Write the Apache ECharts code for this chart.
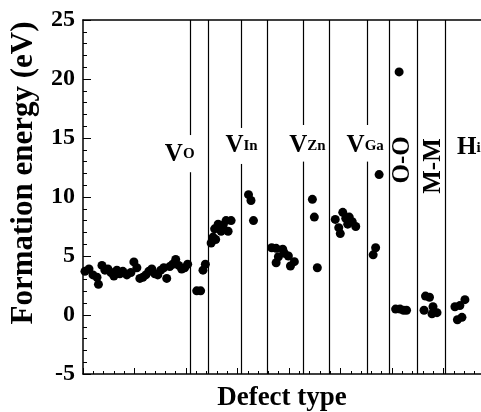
<!DOCTYPE html>
<html><head><meta charset="utf-8">
<script src="https://cdn.jsdelivr.net/npm/echarts@6/dist/echarts.min.js"></script>
<style>html,body{margin:0;padding:0;background:#fff}#c{width:481px;height:412px}</style>
</head><body><div id="c"></div>
<script>
// ---- data ----
const yTicks = [-5, 0, 5, 10, 15, 20, 25];
const groupLabels = ['VO', 'VIn', 'VZn', 'VGa', 'O-O', 'M-M', 'Hi'];
// x = running defect index, y = formation energy (eV)
const vO = [[0.19,3.7],[0.58,3.9],[0.97,3.4],[1.36,3.2],[1.5,2.6],[1.84,4.2],[2.13,3.8],[2.42,3.9],[2.71,3.6],[3.0,3.3],
  [3.29,3.8],[3.58,3.5],[3.87,3.7],[4.26,3.4],[4.65,3.6],[4.94,4.5],[5.23,4.0],[5.52,3.1],[5.81,3.2],[6.1,3.4],
  [6.39,3.7],[6.68,3.9],[6.97,3.5],[7.26,3.4],[7.55,3.8],[7.84,4.0],[8.13,3.1],[8.42,4.1],[8.71,4.3],[9.0,4.7],
  [9.29,4.2],[9.58,3.9],[9.87,4.0],[10.16,4.3]];
const vO2 = [[11.04,2.05],[11.42,2.05],[11.65,3.8],[11.88,4.3]];
const vIn = [[12.44,6.1],[12.63,6.6],[12.88,6.4],[12.78,7.3],[13.12,7.7],[13.41,7.1],[13.6,7.6],[13.89,8.0],[14.09,7.1],[14.38,8.0]];
const vIn2 = [[16.07,10.2],[16.31,9.7],[16.55,8.0]];
const vZn = [[18.32,5.7],[18.75,5.65],[19.39,5.57],[19.55,5.23],[18.97,4.94],[18.75,4.43],[19.94,5.0],[20.14,4.15],[20.52,4.52]];
const vZn2 = [[22.27,9.8],[22.46,8.3],[22.75,4.0]];
const vGa = [[24.49,8.1],[24.83,7.4],[24.98,6.9],[25.22,8.7],[25.51,8.2],[25.7,7.7],[25.85,8.3],[26.14,7.9],[26.48,7.5]];
const vGa2 = [[28.17,5.1],[28.41,5.7],[28.75,11.9]];
const oo = [[30.35,0.5],[30.78,0.5],[31.12,0.4],[31.41,0.4],[30.69,20.6]];
const mm = [[33.25,1.6],[33.64,1.5],[33.11,0.4],[33.98,0.7],[33.88,0.1],[34.37,0.2]];
const hi = [[36.11,0.7],[36.59,0.8],[37.08,1.3],[36.35,-0.4],[36.79,-0.2]];
// category boundaries (x)
const fullLines = [12.2, 17.91, 23.91, 29.72, 32.43, 35.14];
const gappedLines = [[10.45,12.1,15.25],[15.39,12.8,15.85],[21.39,13.0,16.1],[27.59,13.0,16.1]];

// ---- layout ----
const FONT = '"Liberation Serif","Times New Roman",serif';
const labelAnchors = [[9.39,13.64,0],[15.39,14.32,0],[21.78,14.32,0],[27.4,14.32,0],[31.03,13.14,90],[34.03,12.63,90],[37.46,14.15,0]];
const fmt = {
  'VO': '{v|V}{s|O}', 'VIn': '{v|V}{s|In}', 'VZn': '{v|V}{s|Zn}', 'VGa': '{v|V}{s|Ga}',
  'O-O': '{v|O-O}', 'M-M': '{v|M-M}', 'Hi': '{v|H}{s|i}'
};
const rich = {
  v:{fontSize:25, fontWeight:'bold', fontFamily:FONT, fill:'#000', color:'#000'},
  s:{fontSize:15, fontWeight:'bold', fontFamily:FONT, fill:'#000', color:'#000'}
};

const points = [].concat(vO, vO2, vIn, vIn2, vZn, vZn2, vGa, vGa2, oo, mm, hi);
const lineStyle = {color:'#000', width:1.2, type:'solid'};
const mlData = [];
fullLines.forEach(x => mlData.push([{coord:[x,-5]},{coord:[x,25]}]));
gappedLines.forEach(g => {
  mlData.push([{coord:[g[0],-5]},{coord:[g[0],g[1]]}]);
  mlData.push([{coord:[g[0],g[2]]},{coord:[g[0],25]}]);
});

const chart = echarts.init(document.getElementById('c'), null, {renderer:'canvas'});
chart.setOption({
  animation:false,
  backgroundColor:'#fff',
  grid:{left:83, width:412, top:20, bottom:38, outerBoundsMode:'none', containLabel:false},
  xAxis:[{
    type:'value', min:0, max:40, interval:5, position:'bottom',
    axisLine:{show:true, onZero:false, lineStyle:{color:'#000', width:1.5}},
    axisTick:{show:true, inside:true, length:6, lineStyle:{color:'#000', width:1}},
    minorTick:{show:true, splitNumber:5, length:3, lineStyle:{color:'#000', width:1}},
    axisLabel:{show:false}, splitLine:{show:false}
  },{
    type:'value', min:0, max:40, position:'top',
    axisLine:{show:true, onZero:false, lineStyle:{color:'#000', width:1.5}},
    axisTick:{show:false}, axisLabel:{show:false}, splitLine:{show:false}
  }],
  yAxis:{
    type:'value', min:yTicks[0], max:yTicks[yTicks.length-1], interval:5,
    axisLine:{show:true, onZero:false, lineStyle:{color:'#000', width:1.5}},
    axisTick:{show:true, inside:true, length:8, lineStyle:{color:'#000', width:1}},
    minorTick:{show:true, splitNumber:5, length:4, lineStyle:{color:'#000', width:1}},
    axisLabel:{show:true, margin:8, color:'#000', fontFamily:FONT, fontWeight:'bold', fontSize:24},
    splitLine:{show:false}
  },
  series:[{
    type:'scatter', data:points, symbolSize:9, itemStyle:{color:'#000', opacity:1},
    markLine:{silent:true, symbol:['none','none'], label:{show:false}, lineStyle:lineStyle, data:mlData, animation:false}
  }]
});

const gfx = [
  {type:'text', x:24, y:173, rotation:Math.PI/2,
   style:{text:'Formation energy (eV)', fill:'#000', font:'bold 31px '+FONT, align:'center', verticalAlign:'middle'}},
  {type:'text', x:282, y:398,
   style:{text:'Defect type', fill:'#000', font:'bold 27px '+FONT, align:'center', verticalAlign:'middle'}}
];
groupLabels.forEach((g,i) => {
  const p = chart.convertToPixel({gridIndex:0}, [labelAnchors[i][0], labelAnchors[i][1]]);
  gfx.push({type:'text', x:p[0], y:p[1], rotation:labelAnchors[i][2]*Math.PI/180,
    style:{text:fmt[g], rich:rich, fill:'#000', align:'center', verticalAlign:'middle'}});
});
chart.setOption({graphic:gfx});
</script></body></html>
